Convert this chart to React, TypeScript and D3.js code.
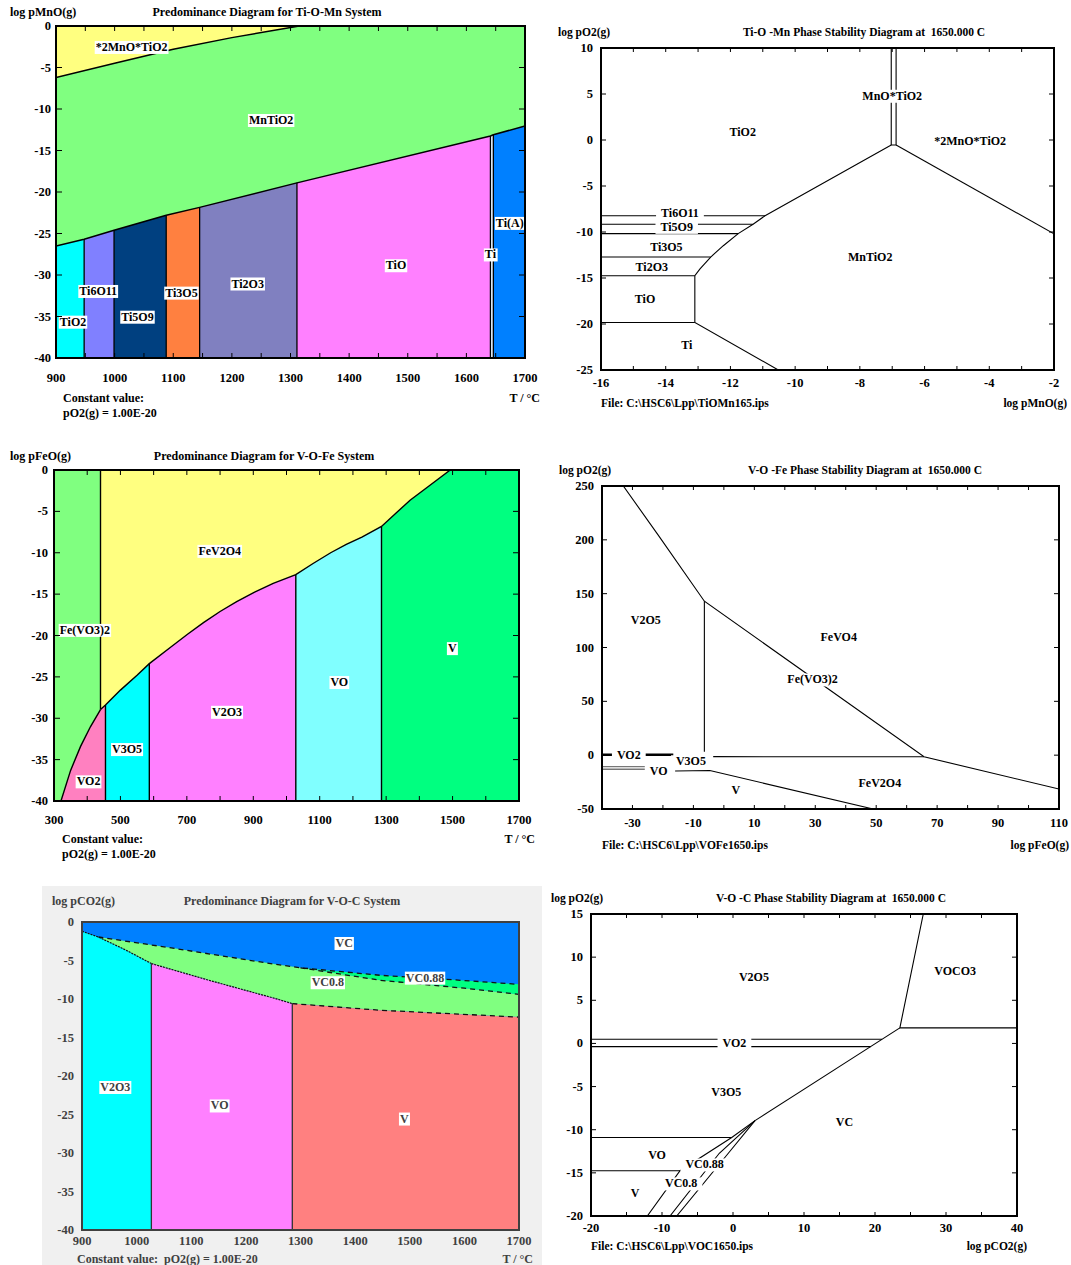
import React, { useEffect, useRef } from 'react';
import * as d3 from 'd3';

type Pt = [number, number];
type Label = { text: string; x: number; y: number };

const FONT = "'Liberation Serif', 'Times New Roman', serif";

// ---------- Ti-O-Mn predominance (T vs log pMnO) ----------
const tiMnTempLabels = [900, 1000, 1100, 1200, 1300, 1400, 1500, 1600, 1700];
const tiMnLogLabels = [0, -5, -10, -15, -20, -25, -30, -35, -40];
const tiMnUpper: Pt[] = [[900, -6.2], [1000, -4.5], [1100, -2.8], [1200, -1.4], [1315, 0]];
const tiMnLower: Pt[] = [[900, -26.5], [948, -25.7], [999, -24.6], [1088, -22.8], [1145, -21.85], [1311, -18.9], [1641, -13.25], [1646, -13.1], [1700, -12.05]];
const tiMnEdges = [900, 948, 999, 1088, 1145, 1311, 1641, 1646, 1700];
const tiMnColors = ['#00FFFF', '#8080FF', '#004080', '#FF8040', '#8080C0', '#FF80FF', '#E8F4FF', '#0080FF'];
const tiMnLabels: Label[] = [
  { text: '*2MnO*TiO2', x: 1029, y: -2.5 },
  { text: 'MnTiO2', x: 1267, y: -11.3 },
  { text: 'Ti6O11', x: 972, y: -31.9 },
  { text: 'TiO2', x: 929, y: -35.6 },
  { text: 'Ti5O9', x: 1039, y: -35 },
  { text: 'Ti3O5', x: 1114, y: -32.1 },
  { text: 'Ti2O3', x: 1227, y: -31 },
  { text: 'TiO', x: 1480, y: -28.8 },
  { text: 'Ti', x: 1641, y: -27.5 },
  { text: 'Ti(A)', x: 1674, y: -23.7 },
];

// ---------- Ti-O-Mn stability at 1650 C (log pMnO vs log pO2) ----------
const mnXLabels = [-16, -14, -12, -10, -8, -6, -4, -2];
const mnYLabels = [10, 5, 0, -5, -10, -15, -20, -25];
const mnLines: Pt[][] = [
  [[-7.03, 10], [-7.03, -0.55], [-6.88, -0.55], [-6.88, 10]],
  [[-7.03, -0.55], [-10.93, -8.23], [-11.3, -9.16], [-11.76, -10.18], [-12.22, -11.49], [-12.61, -12.72], [-12.94, -14.0], [-13.1, -14.75], [-13.1, -19.84], [-10.52, -25]],
  [[-6.88, -0.55], [-2, -10.2]],
  [[-16, -8.23], [-10.93, -8.23]],
  [[-16, -9.16], [-11.3, -9.16]],
  [[-16, -10.18], [-11.76, -10.18]],
  [[-16, -12.72], [-12.61, -12.72]],
  [[-16, -14.75], [-13.1, -14.75]],
  [[-16, -19.84], [-13.1, -19.84]],
];
const mnLabels: Label[] = [
  { text: 'TiO2', x: -11.62, y: 0.9 },
  { text: 'MnO*TiO2', x: -7.0, y: 4.83 },
  { text: '*2MnO*TiO2', x: -4.59, y: -0.08 },
  { text: 'Ti6O11', x: -13.56, y: -7.95 },
  { text: 'Ti5O9', x: -13.66, y: -9.42 },
  { text: 'Ti3O5', x: -13.98, y: -11.6 },
  { text: 'Ti2O3', x: -14.43, y: -13.83 },
  { text: 'TiO', x: -14.64, y: -17.3 },
  { text: 'Ti', x: -13.35, y: -22.3 },
  { text: 'MnTiO2', x: -7.68, y: -12.7 },
];

// ---------- V-O-Fe predominance (T vs log pFeO) ----------
const feTempLabels = [300, 500, 700, 900, 1100, 1300, 1500, 1700];
const feLogLabels = [0, -5, -10, -15, -20, -25, -30, -35, -40];
const feLower: Pt[] = [[440, -28.95], [455, -28.4], [500, -26.6], [550, -24.8], [587, -23.4], [650, -21.45], [702, -19.85], [750, -18.45], [800, -17.1], [850, -15.9], [904, -14.75], [960, -13.7], [1028, -12.65], [1080, -11.3], [1133, -10.0], [1180, -9.0], [1227, -8.1], [1286, -6.82], [1330, -5.2], [1372, -3.65], [1430, -1.9], [1493, 0]];
const feVO2Edge: Pt[] = [[321, -40], [350, -36.3], [380, -33.4], [410, -31], [440, -28.95]];
const feEdges = [455, 587, 1028, 1286];
const fePhases = ['V3O5', 'V2O3', 'VO'];
const feColors = ['#00FFFF', '#FF80FF', '#80FFFF'];
const feLabels: Label[] = [
  { text: 'FeV2O4', x: 799, y: -9.75 },
  { text: 'Fe(VO3)2', x: 393, y: -19.3 },
  { text: 'VO2', x: 404, y: -37.6 },
  { text: 'V3O5', x: 520, y: -33.7 },
  { text: 'V2O3', x: 821, y: -29.2 },
  { text: 'VO', x: 1159, y: -25.6 },
  { text: 'V', x: 1499, y: -21.5 },
];

// ---------- V-O-Fe stability at 1650 C (log pFeO vs log pO2) ----------
const vfXLabels = [-30, -10, 10, 30, 50, 70, 90, 110];
const vfYLabels = [250, 200, 150, 100, 50, 0, -50];
const vfLines: Pt[][] = [
  [[-33, 250], [-21.2, 203], [-6.4, 143], [65.7, -1.5], [110, -31.4]],
  [[-6.4, 143], [-6.4, 3.2]],
  [[-3.5, -1.4], [65.7, -1.5]],
  [[-16, -14.7], [-4.6, -14.3], [49, -50]],
];
const vfGrayLines: Pt[][] = [[[-40, -10.7], [-25.3, -10.7]], [[-40, -13.1], [-25.3, -13.1]]];
const vfThickLines: Pt[][] = [[[-40, 0.4], [-16.6, 0.4]]];
const vfLabels: Label[] = [
  { text: 'V2O5', x: -25.6, y: 126 },
  { text: 'FeVO4', x: 37.7, y: 109.7 },
  { text: 'Fe(VO3)2', x: 29.1, y: 70.5 },
  { text: 'VO2', x: -31.2, y: 0 },
  { text: 'V3O5', x: -10.8, y: -5.5 },
  { text: 'VO', x: -21.4, y: -14.2 },
  { text: 'V', x: 3.9, y: -32.4 },
  { text: 'FeV2O4', x: 51.2, y: -25.6 },
];

// ---------- V-O-C predominance (T vs log pCO2) ----------
const vcTempLabels = [900, 1000, 1100, 1200, 1300, 1400, 1500, 1600, 1700];
const vcLogLabels = [0, -5, -10, -15, -20, -25, -30, -35, -40];
const vcV2O3Top: Pt[] = [[900, -1.2], [930, -1.95], [979, -3.6], [1027, -5.4]];
const vcVOTop: Pt[] = [[1027, -5.4], [1132, -7.56], [1254, -9.94], [1285, -10.6]];
const vcVTop: Pt[] = [[1285, -10.6], [1446, -11.46], [1700, -12.35]];
const vcVCBottom: Pt[] = [[930, -1.95], [1071, -3.45], [1254, -5.5], [1300, -5.95], [1446, -6.92], [1600, -7.6], [1700, -8.1]];
const vc088Bottom: Pt[] = [[1300, -5.95], [1446, -7.57], [1600, -8.6], [1700, -9.4]];
const vcLabels: Label[] = [
  { text: 'VC', x: 1380, y: -2.7 },
  { text: 'VC0.8', x: 1350, y: -7.8 },
  { text: 'VC0.88', x: 1528, y: -7.2 },
  { text: 'V2O3', x: 961, y: -21.4 },
  { text: 'VO', x: 1152, y: -23.8 },
  { text: 'V', x: 1490, y: -25.5 },
];

// ---------- V-O-C stability at 1650 C (log pCO2 vs log pO2) ----------
const vsXLabels = [-20, -10, 0, 10, 20, 30, 40];
const vsYLabels = [15, 10, 5, 0, -5, -10, -15, -20];
const vsLines: Pt[][] = [
  [[26.8, 15], [23.5, 1.8], [40, 1.8]],
  [[23.5, 1.8], [3.1, -8.95]],
  [[-20, 0.48], [21.0, 0.48]],
  [[-20, -0.37], [19.4, -0.37]],
  [[-20, -10.9], [-0.18, -10.9]],
  [[-20, -14.75], [-7.46, -14.75]],
  [[3.1, -8.95], [-0.18, -10.9], [-7.46, -14.75], [-12.07, -20]],
  [[3.1, -8.95], [-1.93, -12.73], [-8.87, -20]],
  [[3.1, -8.95], [-0.66, -12.73], [-7.93, -20]],
];
const vsLabels: Label[] = [
  { text: 'V2O5', x: 2.95, y: 7.76 },
  { text: 'VOCO3', x: 31.3, y: 8.4 },
  { text: 'VO2', x: 0.2, y: 0.05 },
  { text: 'V3O5', x: -0.95, y: -5.64 },
  { text: 'VC', x: 15.7, y: -9.1 },
  { text: 'VO', x: -10.7, y: -12.9 },
  { text: 'VC0.88', x: -4.0, y: -14.0 },
  { text: 'VC0.8', x: -7.3, y: -16.2 },
  { text: 'V', x: -13.8, y: -17.3 },
];

// linear interpolation along a boundary polyline
function yAt(line: Pt[], x: number): number {
  for (let i = 1; i < line.length; i++) {
    const [xa, ya] = line[i - 1];
    const [xb, yb] = line[i];
    if (x <= xb || i === line.length - 1) return ya + ((x - xa) / (xb - xa || 1)) * (yb - ya);
  }
  return line[line.length - 1][1];
}
function part(line: Pt[], a: number, b: number): Pt[] {
  const pts: Pt[] = [[a, yAt(line, a)]];
  line.forEach(p => { if (p[0] > a && p[0] < b) pts.push(p); });
  pts.push([b, yAt(line, b)]);
  return pts;
}

type Box = { x0: number; x1: number; y0: number; y1: number };
type Sel = d3.Selection<SVGGElement, unknown, null, undefined>;

function makePanel(svg: d3.Selection<SVGSVGElement, unknown, null, undefined>, id: string, box: Box, xd: number[], yd: number[]) {
  const x = d3.scaleLinear().domain(xd).range([box.x0, box.x1]);
  const y = d3.scaleLinear().domain(yd).range([box.y1, box.y0]);
  svg.append('clipPath').attr('id', id).append('rect')
    .attr('x', box.x0).attr('y', box.y0).attr('width', box.x1 - box.x0).attr('height', box.y1 - box.y0);
  const g = svg.append('g') as Sel;
  const plot = g.append('g').attr('clip-path', `url(#${id})`) as Sel;
  const line = d3.line<Pt>().x(d => x(d[0])).y(d => y(d[1]));
  return { g, plot, x, y, line, box };
}

function txt(g: Sel, x: number, y: number, s: string, size: number, anchor = 'start', color = '#000') {
  return g.append('text').attr('x', x).attr('y', y).attr('text-anchor', anchor)
    .attr('font-family', FONT).attr('font-weight', 'bold').attr('font-size', size).attr('fill', color)
    .style('white-space', 'pre').text(s);
}

function tag(g: Sel, x: number, y: number, s: string, padX: number, color = '#000') {
  const t = g.append('text').attr('x', x).attr('y', y).attr('dy', '0.35em').attr('text-anchor', 'middle')
    .attr('font-family', FONT).attr('font-weight', 'bold').attr('font-size', 12).attr('fill', color).text(s);
  const b = (t.node() as SVGTextElement).getBBox();
  g.insert('rect', () => t.node() as any)
    .attr('x', b.x - padX).attr('y', b.y + 1).attr('width', b.width + 2 * padX).attr('height', b.height - 1)
    .attr('fill', '#fff');
}

function axes(p: ReturnType<typeof makePanel>, o: {
  xLab: number[]; yLab: number[]; xTick: number[]; yTick: number[];
  color: string; tick: number; labGap: number; xLabDy: number;
}) {
  const { g, x, y, box } = p;
  g.append('rect').attr('x', box.x0).attr('y', box.y0).attr('width', box.x1 - box.x0).attr('height', box.y1 - box.y0)
    .attr('fill', 'none').attr('stroke', o.color).attr('stroke-width', 2);
  if (o.tick > 0) {
    o.xTick.forEach(v => {
      g.append('line').attr('x1', x(v)).attr('x2', x(v)).attr('y1', box.y1).attr('y2', box.y1 - o.tick).attr('stroke', o.color);
      g.append('line').attr('x1', x(v)).attr('x2', x(v)).attr('y1', box.y0).attr('y2', box.y0 + o.tick).attr('stroke', o.color);
    });
    o.yTick.forEach(v => {
      g.append('line').attr('x1', box.x0).attr('x2', box.x0 + o.tick + 1).attr('y1', y(v)).attr('y2', y(v)).attr('stroke', o.color);
      g.append('line').attr('x1', box.x1).attr('x2', box.x1 - o.tick - 1).attr('y1', y(v)).attr('y2', y(v)).attr('stroke', o.color);
    });
  }
  o.xLab.forEach(v => txt(g, x(v), box.y1 + o.xLabDy, String(v), 12.5, 'middle', o.color));
  o.yLab.forEach(v => txt(g, box.x0 - o.labGap, y(v) + 4, String(v), 12.5, 'end', o.color));
}

function drawAll(svg: d3.Selection<SVGSVGElement, unknown, null, undefined>) {
  svg.selectAll('*').remove();
  svg.append('rect').attr('width', 1071).attr('height', 1265).attr('fill', '#fff');

  // ---- Panel 1: Ti-O-Mn predominance ----
  const p1 = makePanel(svg, 'c1', { x0: 56, x1: 525, y0: 26, y1: 358 }, [900, 1700], [-40, 0]);
  p1.plot.append('rect').attr('x', 56).attr('y', 26).attr('width', 469).attr('height', 332).attr('fill', '#80FF80');
  p1.plot.append('path').attr('d', p1.line([[900, 0], ...tiMnUpper])!).attr('fill', '#FFFF80');
  tiMnColors.forEach((c, i) => {
    const a = tiMnEdges[i], b = tiMnEdges[i + 1];
    p1.plot.append('path').attr('d', p1.line([[a, -40], ...part(tiMnLower, a, b), [b, -40]])!).attr('fill', c);
  });
  tiMnEdges.slice(1, -1).forEach(t => {
    p1.plot.append('path').attr('d', p1.line([[t, -40], [t, yAt(tiMnLower, t)]])!).attr('stroke', '#000').attr('stroke-width', 1.3).attr('fill', 'none');
  });
  [tiMnUpper, tiMnLower].forEach(l => p1.plot.append('path').attr('d', p1.line(l)!).attr('stroke', '#000').attr('stroke-width', 1.5).attr('fill', 'none'));
  tiMnLabels.forEach(l => tag(p1.g, p1.x(l.x), p1.y(l.y), l.text, 1));
  axes(p1, { xLab: tiMnTempLabels, yLab: tiMnLogLabels, xTick: d3.range(950, 1700, 50), yTick: d3.range(-35, 0, 5), color: '#000', tick: 5, labGap: 5, xLabDy: 24 });
  txt(p1.g, 10, 16, 'log pMnO(g)', 12);
  txt(p1.g, 267, 16, 'Predominance Diagram for Ti-O-Mn System', 12, 'middle');
  txt(p1.g, 63, 402, 'Constant value:', 12);
  txt(p1.g, 63, 417, 'pO2(g) = 1.00E-20', 12);
  txt(p1.g, 540, 402, 'T / °C', 12, 'end');

  // ---- Panel 2: Ti-O-Mn stability ----
  const p2 = makePanel(svg, 'c2', { x0: 601, x1: 1054, y0: 48, y1: 370 }, [-16, -2], [-25, 10]);
  mnLines.forEach(l => p2.plot.append('path').attr('d', p2.line(l)!).attr('stroke', '#000').attr('stroke-width', 1.1).attr('fill', 'none'));
  mnLabels.forEach(l => tag(p2.g, p2.x(l.x), p2.y(l.y), l.text, 5));
  axes(p2, { xLab: mnXLabels, yLab: mnYLabels, xTick: d3.range(-15, -2, 1), yTick: d3.range(-20, 10, 5), color: '#000', tick: 4, labGap: 8, xLabDy: 17 });
  txt(p2.g, 558, 36, 'log pO2(g)', 11.5);
  txt(p2.g, 864, 36, 'Ti-O -Mn Phase Stability Diagram at  1650.000 C', 11.5, 'middle');
  txt(p2.g, 601, 407, 'File: C:\\HSC6\\Lpp\\TiOMn165.ips', 11.5);
  txt(p2.g, 1067, 407, 'log pMnO(g)', 11.5, 'end');

  // ---- Panel 3: V-O-Fe predominance ----
  const p3 = makePanel(svg, 'c3', { x0: 54, x1: 519, y0: 470, y1: 801 }, [300, 1700], [-40, 0]);
  p3.plot.append('rect').attr('x', 54).attr('y', 470).attr('width', 465).attr('height', 331).attr('fill', '#FFFF80');
  p3.plot.append('path').attr('d', p3.line([[300, 0], [440, 0], ...feVO2Edge.slice().reverse(), [300, -40]])!).attr('fill', '#80FF80');
  p3.plot.append('path').attr('d', p3.line([...feVO2Edge, ...part(feLower, 440, 455), [455, -40]])!).attr('fill', '#FF80C0');
  fePhases.forEach((_, i) => {
    const a = feEdges[i], b = feEdges[i + 1];
    p3.plot.append('path').attr('d', p3.line([[a, -40], ...part(feLower, a, b), [b, -40]])!).attr('fill', feColors[i]);
  });
  p3.plot.append('path').attr('d', p3.line([[1286, -40], ...part(feLower, 1286, 1493), [1700, 0], [1700, -40]])!).attr('fill', '#00FF80');
  const k3 = (l: Pt[]) => p3.plot.append('path').attr('d', p3.line(l)!).attr('stroke', '#000').attr('stroke-width', 1.4).attr('fill', 'none');
  k3([[440, 0], [440, -28.95]]);
  feEdges.forEach(t => k3([[t, -40], [t, yAt(feLower, t)]]));
  k3(feLower);
  k3(feVO2Edge);
  feLabels.forEach(l => tag(p3.g, p3.x(l.x), p3.y(l.y), l.text, 1));
  axes(p3, { xLab: feTempLabels, yLab: feLogLabels, xTick: d3.range(400, 1700, 100), yTick: d3.range(-35, 0, 5), color: '#000', tick: 5, labGap: 6, xLabDy: 23 });
  txt(p3.g, 10, 460, 'log pFeO(g)', 12);
  txt(p3.g, 264, 460, 'Predominance Diagram for V-O-Fe System', 12, 'middle');
  txt(p3.g, 62, 843, 'Constant value:', 12);
  txt(p3.g, 62, 858, 'pO2(g) = 1.00E-20', 12);
  txt(p3.g, 535, 843, 'T / °C', 12, 'end');

  // ---- Panel 4: V-O-Fe stability ----
  const p4 = makePanel(svg, 'c4', { x0: 602, x1: 1059, y0: 486, y1: 809 }, [-40, 110], [-50, 250]);
  vfLines.forEach(l => p4.plot.append('path').attr('d', p4.line(l)!).attr('stroke', '#000').attr('stroke-width', 1.1).attr('fill', 'none'));
  vfGrayLines.forEach(l => p4.plot.append('path').attr('d', p4.line(l)!).attr('stroke', '#777').attr('stroke-width', 1.3).attr('fill', 'none'));
  vfThickLines.forEach(l => p4.plot.append('path').attr('d', p4.line(l)!).attr('stroke', '#000').attr('stroke-width', 2.6).attr('fill', 'none'));
  vfLabels.forEach(l => tag(p4.g, p4.x(l.x), p4.y(l.y), l.text, 5));
  axes(p4, { xLab: vfXLabels, yLab: vfYLabels, xTick: d3.range(-30, 110, 10), yTick: d3.range(0, 250, 50), color: '#000', tick: 4, labGap: 8, xLabDy: 18 });
  txt(p4.g, 559, 474, 'log pO2(g)', 11.5);
  txt(p4.g, 865, 474, 'V-O -Fe Phase Stability Diagram at  1650.000 C', 11.5, 'middle');
  txt(p4.g, 602, 849, 'File: C:\\HSC6\\Lpp\\VOFe1650.ips', 11.5);
  txt(p4.g, 1069, 849, 'log pFeO(g)', 11.5, 'end');

  // ---- Panel 5: V-O-C predominance ----
  svg.append('rect').attr('x', 42).attr('y', 886).attr('width', 500).attr('height', 379).attr('fill', '#F0F0F0');
  const p5 = makePanel(svg, 'c5', { x0: 82, x1: 519, y0: 922, y1: 1230 }, [900, 1700], [-40, 0]);
  p5.plot.append('rect').attr('x', 82).attr('y', 922).attr('width', 437).attr('height', 308).attr('fill', '#0080FF');
  p5.plot.append('path').attr('d', p5.line([...vcVCBottom, ...vc088Bottom.slice().reverse()])!).attr('fill', '#00FF80');
  p5.plot.append('path').attr('d', p5.line([...part(vcVCBottom, 930, 1300), ...vc088Bottom.slice(1), ...vcVTop.slice().reverse(), ...vcVOTop.slice().reverse(), ...vcV2O3Top.slice(1).reverse()])!).attr('fill', '#80FF80');
  p5.plot.append('path').attr('d', p5.line([[900, -40], ...vcV2O3Top, [1027, -40]])!).attr('fill', '#00FFFF');
  p5.plot.append('path').attr('d', p5.line([[1027, -40], ...vcVOTop, [1285, -40]])!).attr('fill', '#FF80FF');
  p5.plot.append('path').attr('d', p5.line([[1285, -40], ...vcVTop, [1700, -40]])!).attr('fill', '#FF8080');
  [vcV2O3Top, vcVOTop].forEach(l => p5.plot.append('path').attr('d', p5.line(l)!).attr('stroke', '#111').attr('stroke-width', 1.2).attr('stroke-dasharray', '2,1').attr('fill', 'none'));
  [vcVTop, vcVCBottom, vc088Bottom].forEach(l => p5.plot.append('path').attr('d', p5.line(l)!).attr('stroke', '#111').attr('stroke-width', 1.3).attr('stroke-dasharray', '5,4').attr('fill', 'none'));
  [1027, 1285].forEach(t => p5.plot.append('path').attr('d', p5.line([[t, -40], [t, t < 1100 ? -5.4 : -10.6]])!).attr('stroke', '#333').attr('stroke-width', 1.3).attr('fill', 'none'));
  vcLabels.forEach(l => tag(p5.g, p5.x(l.x), p5.y(l.y), l.text, 1, '#404040'));
  axes(p5, { xLab: vcTempLabels, yLab: vcLogLabels, xTick: [], yTick: [], color: '#404040', tick: 0, labGap: 8, xLabDy: 15 });
  txt(p5.g, 52, 905, 'log pCO2(g)', 12, 'start', '#404040');
  txt(p5.g, 292, 905, 'Predominance Diagram for V-O-C System', 12, 'middle', '#404040');
  txt(p5.g, 77, 1263, 'Constant value:  pO2(g) = 1.00E-20', 12, 'start', '#404040');
  txt(p5.g, 533, 1263, 'T / °C', 12, 'end', '#404040');

  // ---- Panel 6: V-O-C stability ----
  const p6 = makePanel(svg, 'c6', { x0: 591, x1: 1017, y0: 914, y1: 1216 }, [-20, 40], [-20, 15]);
  vsLines.forEach(l => p6.plot.append('path').attr('d', p6.line(l)!).attr('stroke', '#000').attr('stroke-width', 1.1).attr('fill', 'none'));
  vsLabels.forEach(l => tag(p6.g, p6.x(l.x), p6.y(l.y), l.text, 5));
  axes(p6, { xLab: vsXLabels, yLab: vsYLabels, xTick: d3.range(-15, 40, 5), yTick: d3.range(-15, 15, 5), color: '#000', tick: 4, labGap: 8, xLabDy: 16 });
  txt(p6.g, 551, 902, 'log pO2(g)', 11.5);
  txt(p6.g, 831, 902, 'V-O -C Phase Stability Diagram at  1650.000 C', 11.5, 'middle');
  txt(p6.g, 591, 1250, 'File: C:\\HSC6\\Lpp\\VOC1650.ips', 11.5);
  txt(p6.g, 1027, 1250, 'log pCO2(g)', 11.5, 'end');
}

export default function App() {
  const ref = useRef<SVGSVGElement>(null);
  useEffect(() => {
    if (ref.current) drawAll(d3.select(ref.current));
  }, []);
  return (
    <div style={{ position: 'absolute', left: 0, top: 0 }}>
      <svg ref={ref} width={1071} height={1265} style={{ display: 'block' }} />
    </div>
  );
}
